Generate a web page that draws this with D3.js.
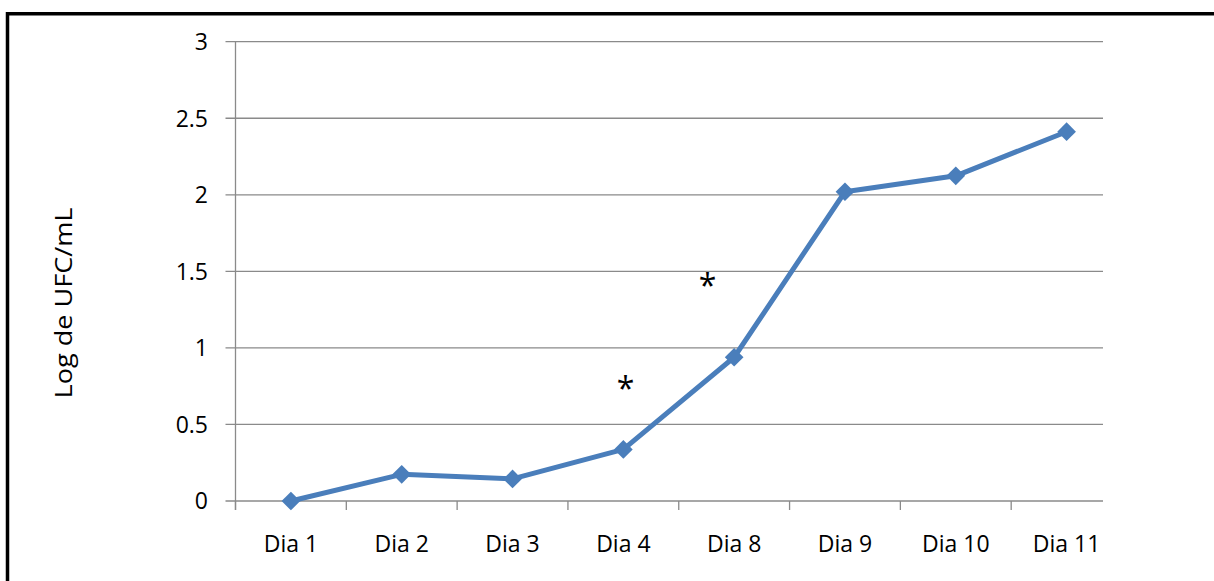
<!DOCTYPE html>
<html>
<head>
<meta charset="utf-8">
<script src="https://cdn.jsdelivr.net/npm/d3@7"></script>
<style>
  html, body { margin: 0; padding: 0; background: #fff; }
  svg { display: block; }
  text { font-family: "Open Sans", "Noto Sans", sans-serif; fill: #000; }
</style>
</head>
<body>
<svg id="chart" width="1214" height="581"></svg>
<script>
// Sampling days and bacterial counts (log UFC/mL)
const categories = ["Dia 1", "Dia 2", "Dia 3", "Dia 4", "Dia 8", "Dia 9", "Dia 10", "Dia 11"];
const logUFC = [0, 0.174, 0.144, 0.337, 0.939, 2.02, 2.124, 2.412];
const yTicks = [0, 0.5, 1, 1.5, 2, 2.5, 3];
// Significance markers: category, offset within the band, height on the value axis
const markers = [
  { cat: "Dia 4", shift: 0.02, value: 0.80 },
  { cat: "Dia 4", shift: 0.76, value: 1.47 }
];

const svg = d3.select("#chart");
const W = 1214, H = 581;
const plot = { left: 235.5, right: 1103, top: 41.7, bottom: 501 };

const x = d3.scaleBand().domain(categories).range([plot.left, 1122]).padding(0);
const y = d3.scaleLinear().domain([0, 3]).range([plot.bottom, plot.top]);

// Outer frame (top and left edges)
svg.append("path")
  .attr("d", `M7.5,${H} L7.5,13.8 L${W},13.8`)
  .attr("fill", "none").attr("stroke", "#000").attr("stroke-width", 3.5);

// Horizontal gridlines with short ticks to the left of the axis
const grid = svg.append("g");
grid.selectAll("line").data(yTicks).join("line")
  .attr("x1", plot.left - 10).attr("x2", plot.right)
  .attr("y1", d => y(d)).attr("y2", d => y(d))
  .attr("stroke", "#8a8a8a").attr("stroke-width", 1.3);

// Value axis
svg.append("line")
  .attr("x1", plot.left).attr("x2", plot.left)
  .attr("y1", plot.top).attr("y2", plot.bottom + 9)
  .attr("stroke", "#8a8a8a").attr("stroke-width", 1.3);

svg.append("g").selectAll("text").data(yTicks).join("text")
  .attr("x", 208).attr("y", d => y(d))
  .attr("dy", "0.36em")
  .attr("text-anchor", "end")
  .attr("font-size", 23)
  .text(d => d3.format("")(d));

// Category axis ticks at band edges
svg.append("g").selectAll("line").data(categories).join("line")
  .attr("x1", d => x(d)).attr("x2", d => x(d))
  .attr("y1", plot.bottom).attr("y2", plot.bottom + 9)
  .attr("stroke", "#8a8a8a").attr("stroke-width", 1.3);

svg.append("g").selectAll("text").data(categories).join("text")
  .attr("x", d => x(d) + x.bandwidth() / 2)
  .attr("y", 552)
  .attr("text-anchor", "middle")
  .attr("font-size", 23)
  .text(d => d);

// Value-axis title
svg.append("text")
  .attr("transform", "translate(72,303) rotate(-90)")
  .attr("text-anchor", "middle")
  .attr("font-size", 24)
  .attr("textLength", 191)
  .attr("lengthAdjust", "spacingAndGlyphs")
  .text("Log de UFC/mL");

// Series line and diamond markers
const pts = categories.map((c, i) => [x(c) + x.bandwidth() / 2, y(logUFC[i])]);
svg.append("path")
  .attr("d", d3.line()(pts))
  .attr("fill", "none")
  .attr("stroke", "#4a7ebb")
  .attr("stroke-width", 5)
  .attr("stroke-linejoin", "round");

svg.append("g").selectAll("path").data(pts).join("path")
  .attr("transform", d => `translate(${d[0]},${d[1]}) rotate(45)`)
  .attr("d", d3.symbol().type(d3.symbolSquare).size(175)())
  .attr("fill", "#4a7ebb");

// Asterisks
svg.append("g").selectAll("text").data(markers).join("text")
  .attr("x", d => x(d.cat) + x.bandwidth() * (0.5 + d.shift))
  .attr("y", d => y(d.value))
  .attr("dy", "0.66em")
  .attr("text-anchor", "middle")
  .attr("font-size", 32)
  .text("*");
</script>
</body>
</html>
